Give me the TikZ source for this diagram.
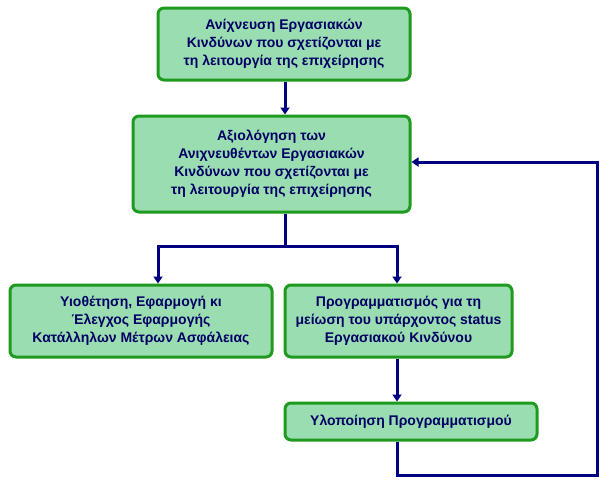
\documentclass[tikz,border=0pt]{standalone}
\usepackage{fontspec}
\setmainfont{Liberation Sans}
\usetikzlibrary{arrows.meta}
\definecolor{boxfill}{HTML}{99DDB0}
\definecolor{boxline}{HTML}{1E9A1E}
\definecolor{navyline}{HTML}{000080}
\definecolor{txt}{HTML}{000066}
\begin{document}
\begin{tikzpicture}[x=1pt,y=-1pt,
  bx/.style={draw=boxline,fill=boxfill,line width=3pt,rounded corners=6pt,inner sep=0pt},
  tx/.style={align=center,font=\bfseries\fontsize{14}{18}\selectfont,text=txt},
  ln/.style={draw=navyline,line width=3pt},
  ar/.style={ln,-{Triangle[length=7pt,width=9pt]}}]
\useasboundingbox (0,0) rectangle (610,485);
\node[bx,minimum width=252pt,minimum height=72pt] (b1) at (284,44) {};
\node[tx] at (b1) {Ανίχνευση Εργασιακών\\Κινδύνων που σχετίζονται με\\τη λειτουργία της επιχείρησης};
\node[bx,minimum width=277pt,minimum height=96pt] (b2) at (271.5,164) {};
\node[tx] at (b2) {Αξιολόγηση των\\Ανιχνευθέντων Εργασιακών\\Κινδύνων που σχετίζονται με\\τη λειτουργία της επιχείρησης};
\node[bx,minimum width=262pt,minimum height=72pt] (b3) at (141,321) {};
\node[tx] at (b3) {Υιοθέτηση, Εφαρμογή κι\\Έλεγχος Εφαρμογής\\Κατάλληλων Μέτρων Ασφάλειας};
\node[bx,minimum width=227pt,minimum height=72pt] (b4) at (398.5,321) {};
\node[tx] at (b4) {Προγραμματισμός για τη\\μείωση του υπάρχοντος status\\Εργασιακού Κινδύνου};
\node[bx,minimum width=252pt,minimum height=37pt] (b5) at (411,421.5) {};
\node[tx] at (b5) {Υλοποίηση Προγραμματισμού};
\coordinate (j) at (285,246);
\coordinate (jl) at (158,246);
\coordinate (jr) at (397,246);
\coordinate (c1) at (397,475);
\coordinate (c2) at (597,475);
\coordinate (c3) at (597,162);
\draw[ar] (b1.south -| 285,0) -- (b2.north -| 285,0);
\draw[ln] (b2.south -| j) -- (j);
\draw[ln,line cap=rect] (jl) -- (jr);
\draw[ar] (jl) -- (b3.north -| jl);
\draw[ar] (jr) -- (b4.north -| jr);
\draw[ar] (b4.south -| jr) -- (b5.north -| jr);
\draw[ar,line join=miter] (b5.south -| c1) -- (c1) -- (c2) -- (c3) -- (b2.east |- c3);
\end{tikzpicture}
\end{document}
